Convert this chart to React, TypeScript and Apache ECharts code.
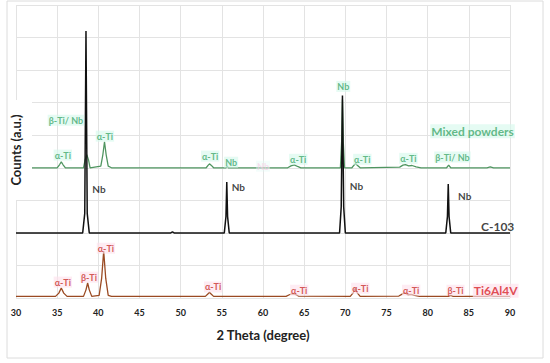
import React, { useEffect, useRef } from "react";
import * as echarts from "echarts";

// x ticks (2 theta, degrees)
const xTicks = [30, 35, 40, 45, 50, 55, 60, 65, 70, 75, 80, 85, 90];

// Ti6Al4V pattern points [2theta, counts]
const ti64: [number, number][] = [
  [30, 0.05], [34.8, 0.05], [35.2, 0.15], [35.5, 0.31], [35.8, 0.15], [36.2, 0.05],
  [38.2, 0.05], [38.5, 0.25], [38.7, 0.46], [38.9, 0.25], [39.2, 0.05],
  [40.1, 0.08], [40.4, 0.6], [40.65, 1.44], [40.9, 0.6], [41.2, 0.08], [41.6, 0.05],
  [53.0, 0.05], [53.3, 0.12], [53.5, 0.18], [53.7, 0.12], [54.0, 0.05],
  [62.8, 0.05], [63.2, 0.1], [63.5, 0.13], [63.9, 0.12], [64.3, 0.06],
  [70.6, 0.05], [70.95, 0.16], [71.2, 0.3], [71.45, 0.16], [71.8, 0.05],
  [76.5, 0.06], [76.9, 0.12], [77.2, 0.16], [77.6, 0.1], [78.0, 0.11], [78.4, 0.08], [79.0, 0.05],
  [82.5, 0.05], [82.8, 0.08], [83.1, 0.05], [87.2, 0.05], [87.6, 0.07], [88.0, 0.05], [90, 0.05],
];

// C-103 pattern points
const c103: [number, number][] = [
  [30, 2.0], [38.1, 2.0], [38.35, 2.6], [38.5, 8.2], [38.65, 2.6], [38.9, 2.0],
  [48.8, 2.0], [49.0, 2.03], [49.2, 2.0],
  [55.3, 2.0], [55.5, 2.5], [55.6, 3.56], [55.7, 2.5], [55.9, 2.0],
  [69.3, 2.0], [69.5, 2.8], [69.65, 6.22], [69.8, 2.8], [70.0, 2.0],
  [82.2, 2.0], [82.4, 2.5], [82.5, 3.5], [82.6, 2.5], [82.8, 2.0], [90, 2.0],
];

// Mixed powders pattern points
const mixed: [number, number][] = [
  [30, 4.0], [35.0, 4.0], [35.3, 4.1], [35.5, 4.18], [35.7, 4.1], [36.0, 4.0],
  [38.2, 4.0], [38.4, 4.25], [38.6, 4.4], [38.8, 4.25], [39.0, 4.0],
  [40.3, 4.05], [40.55, 4.4], [40.75, 4.8], [40.95, 4.4], [41.2, 4.05], [41.6, 4.0],
  [53.1, 4.0], [53.35, 4.08], [53.5, 4.12], [53.7, 4.08], [54.0, 4.0],
  [55.5, 4.0], [55.65, 4.05], [55.8, 4.0],
  [63.0, 4.0], [63.4, 4.06], [63.8, 4.09], [64.2, 4.04], [64.6, 4.0],
  [69.4, 4.0], [69.55, 4.8], [69.65, 6.1], [69.75, 4.8], [69.9, 4.0],
  [70.8, 4.0], [71.05, 4.08], [71.25, 4.13], [71.45, 4.08], [71.8, 4.0],
  [76.6, 4.02], [77.0, 4.08], [77.3, 4.1], [77.7, 4.06], [78.1, 4.07], [78.6, 4.03], [79.2, 4.0],
  [82.3, 4.0], [82.55, 4.08], [82.8, 4.0], [87.2, 4.0], [87.6, 4.03], [88.0, 4.0], [90, 4.0],
];

// Peak labels [2theta, counts, text]
const mixedLabels: [number, number, string][] = [
  [36.06, 5.46, "β-Ti/ Nb"], [35.69, 4.39, "α-Ti"], [40.8, 4.97, "α-Ti"],
  [53.58, 4.36, "α-Ti"], [56.13, 4.17, "Nb"], [64.28, 4.26, "α-Ti"],
  [69.75, 6.5, "Nb"], [72.06, 4.26, "α-Ti"], [77.66, 4.29, "α-Ti"], [83.01, 4.33, "β-Ti/ Nb"],
];
const c103Labels: [number, number, string][] = [
  [40.07, 3.34, "Nb"], [57.0, 3.4, "Nb"], [71.35, 3.44, "Nb"], [84.5, 3.13, "Nb"],
];
const ti64Labels: [number, number, string][] = [
  [35.69, 0.49, "α-Ti"], [38.86, 0.64, "β-Ti"], [40.92, 1.53, "α-Ti"], [53.94, 0.34, "α-Ti"],
  [64.4, 0.24, "α-Ti"], [71.82, 0.3, "α-Ti"], [78.0, 0.24, "α-Ti"], [83.38, 0.24, "β-Ti"],
];
const seriesNames: [number, number, string][] = [
  [85.45, 5.12, "Mixed powders"], [88.5, 2.21, "C-103"], [88.26, 0.22, "Ti6Al4V"],
];
const ghostLabel: [number, number, string][] = [[60.0, 4.05, "Nb"]];

const FONT = "Lato, 'Open Sans', sans-serif";

function labelSeries(data: [number, number, string][], color: string, bg: string, size: number) {
  return {
    type: "scatter",
    symbolSize: 0,
    silent: true,
    z: 5,
    data: data.map((d) => ({ value: [d[0], d[1]], name: d[2] })),
    label: {
      show: true,
      position: "inside",
      formatter: (p: any) => p.name,
      color,
      fontFamily: FONT,
      fontWeight: "bold",
      fontSize: size,
      backgroundColor: bg,
      padding: [1, 1],
    },
  };
}

export default function App() {
  const ref = useRef<HTMLDivElement>(null);
  useEffect(() => {
    const chart = echarts.init(ref.current!, undefined, { renderer: "svg" });
    chart.setOption({
      animation: false,
      backgroundColor: "#fff",
      grid: { left: 16, right: 40, top: 5, bottom: 65, containLabel: false },
      xAxis: {
        type: "value",
        min: xTicks[0],
        max: xTicks[xTicks.length - 1],
        interval: 5,
        axisLine: { show: false },
        axisTick: { show: false },
        splitLine: { show: true, lineStyle: { color: "#e3e3e3", width: 1 } },
        axisLabel: { color: "#222", fontFamily: FONT, fontWeight: "bold", fontSize: 9, margin: 10 },
        name: "2 Theta (degree)",
        nameLocation: "middle",
        nameGap: 30,
        nameTextStyle: { color: "#222", fontFamily: FONT, fontWeight: "bold", fontSize: 13 },
      },
      yAxis: {
        type: "value",
        min: 0,
        max: 9,
        interval: 1,
        axisLine: { show: false },
        axisTick: { show: false },
        axisLabel: { show: false },
        splitLine: { show: true, lineStyle: { color: "#e3e3e3", width: 1 } },
      },
      graphic: [
        {
          type: "rect",
          shape: { x: 7, y: 1, width: 536, height: 357 },
          style: { fill: "none", stroke: "#dcdcdc", lineWidth: 1 },
          silent: true,
          z: 1,
        },
        {
          type: "rect",
          shape: { x: 8, y: 100, width: 24, height: 100 },
          style: { fill: "#fff" },
          silent: true,
          z: 20,
        },
        {
          type: "text",
          x: 16,
          y: 150,
          rotation: Math.PI / 2,
          z: 21,
          style: {
            text: "Counts (a.u.)",
            fill: "#222",
            font: `bold 13px ${FONT}`,
            align: "center",
            verticalAlign: "middle",
          },
        },
      ],
      series: [
        { type: "line", data: mixed, showSymbol: false, lineStyle: { color: "#4f9560", width: 1.3 }, z: 2 },
        { type: "line", data: ti64, showSymbol: false, lineStyle: { color: "#9a4a22", width: 1.3 }, z: 2 },
        { type: "line", data: c103, showSymbol: false, lineStyle: { color: "#111", width: 1.5 }, z: 3 },
        labelSeries(mixedLabels, "#3fa86c", "rgba(215,248,236,0.8)", 9),
        labelSeries(c103Labels, "#111", "rgba(255,255,255,0)", 10),
        labelSeries(ti64Labels, "#c8322e", "rgba(253,226,236,0.8)", 9),
        {
          ...labelSeries(seriesNames, "#3fa86c", "rgba(215,248,236,0.8)", 12),
          data: seriesNames.map((d, i) => ({
            value: [d[0], d[1]],
            name: d[2],
            label: [
              { color: "#3fa86c", backgroundColor: "rgba(215,248,236,0.8)" },
              { color: "#111", backgroundColor: "rgba(255,255,255,0)" },
              { color: "#d8232a", backgroundColor: "rgba(253,226,236,0.85)" },
            ][i],
          })),
        },
        labelSeries(ghostLabel, "rgba(248,200,228,0.75)", "rgba(225,250,245,0.5)", 9),
      ],
    });
    return () => chart.dispose();
  }, []);
  return (
    <div
      ref={ref}
      style={{ position: "absolute", left: 0, top: 0, width: 550, height: 363 }}
    />
  );
}
